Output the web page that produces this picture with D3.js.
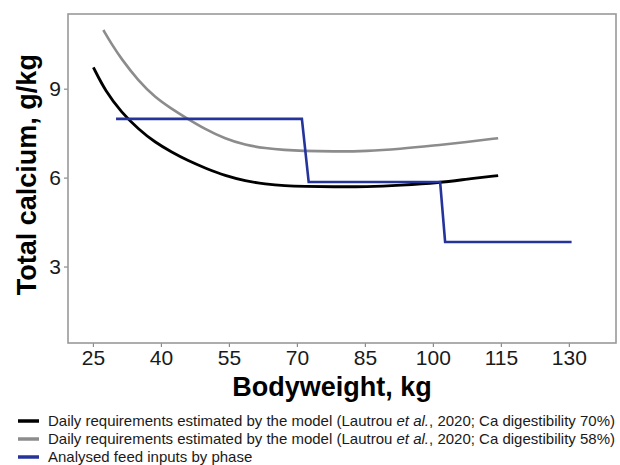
<!DOCTYPE html>
<html>
<head>
<meta charset="utf-8">
<style>
  body { margin: 0; background: #fff; }
  svg { font-family: "Liberation Sans", Arial, sans-serif; }
</style>
</head>
<body>
<svg width="620" height="465" id="chart"></svg>
<script src="https://cdn.jsdelivr.net/npm/d3@7"></script>
<script>
// ---- data ----
var xTicks = [25, 40, 55, 70, 85, 100, 115, 130];
var yTicks = [3, 6, 9];

// requirement, Ca digestibility 70 %
var req70 = [
  [25.1, 9.72], [27.7, 8.93], [31.3, 8.20], [35.0, 7.64], [38.7, 7.19],
  [42.4, 6.86], [46.0, 6.57], [49.8, 6.32], [54.2, 6.06], [58.6, 5.89],
  [63.0, 5.78], [67.4, 5.72], [71.5, 5.70], [78.1, 5.69], [85.4, 5.69],
  [92.8, 5.74], [101.6, 5.83], [107.5, 5.95], [114.4, 6.07]
];

// requirement, Ca digestibility 58 %
var req58 = [
  [27.3, 10.98], [29.1, 10.51], [31.3, 10.0], [35.0, 9.27], [38.7, 8.71],
  [42.4, 8.32], [45.3, 8.04], [49.8, 7.63], [54.2, 7.31], [58.6, 7.10],
  [63.0, 6.99], [67.4, 6.93], [71.0, 6.90], [78.1, 6.88], [85.4, 6.89],
  [92.8, 6.97], [100.1, 7.08], [107.5, 7.20], [114.4, 7.33]
];

// analysed feed by phase
var feed = [
  [30.1, 7.98], [71.1, 7.98], [72.6, 5.85], [101.6, 5.85], [102.7, 3.83], [130.6, 3.83]
];

var legendLabels = [
  "70%", "58%", null
];

var svg = d3.select("#chart"),
    margin = {top: 14, right: 4, bottom: 122, left: 68},
    width = +svg.attr("width") - margin.left - margin.right,
    height = +svg.attr("height") - margin.top - margin.bottom,
    g = svg.append("g").attr("transform", "translate(" + margin.left + "," + margin.top + ")");

var x = d3.scaleLinear().domain([19.5, 140.4]).range([0, width]),
    y = d3.scaleLinear().domain([0.42, 11.52]).range([height, 0]);

// smoothed curve for the model requirements
var line = d3.line()
    .curve(d3.curveBasis)
    .x(function(d) { return x(d[0]); })
    .y(function(d) { return y(d[1]); });

var stepLine = d3.line()
    .x(function(d) { return x(d[0]); })
    .y(function(d) { return y(d[1]); });

// axes
var xAxis = g.append("g")
    .attr("transform", "translate(0," + height + ")")
    .call(d3.axisBottom(x).tickValues(xTicks).tickSize(4).tickPadding(3));
var yAxis = g.append("g")
    .call(d3.axisLeft(y).tickValues(yTicks).tickSize(4).tickPadding(3));

[xAxis, yAxis].forEach(function(a) {
  a.select(".domain").remove();
  a.selectAll(".tick line").attr("stroke", "#8a8a8a").attr("stroke-width", 1.2);
  a.selectAll(".tick text").attr("fill", "#1a1a1a").style("font-size", "21px");
});

// panel border
g.append("rect")
    .attr("width", width)
    .attr("height", height)
    .attr("fill", "none")
    .attr("stroke", "#999")
    .attr("stroke-width", 1.6);

// lines
var series = [
  {data: req58, color: "#8c8c8c", gen: line, w: 2.6},
  {data: req70, color: "#000000", gen: line, w: 2.8},
  {data: feed,  color: "#25349b", gen: stepLine, w: 2.6}
];

g.selectAll(".series")
  .data(series)
  .enter().append("path")
    .attr("class", "series")
    .attr("d", function(d) { return d.gen(d.data); })
    .attr("fill", "none")
    .attr("stroke", function(d) { return d.color; })
    .attr("stroke-width", function(d) { return d.w; });

// axis titles
svg.append("text")
    .attr("x", 332)
    .attr("y", 396)
    .attr("text-anchor", "middle")
    .style("font-size", "27px")
    .style("font-weight", "bold")
    .text("Bodyweight, kg");

svg.append("text")
    .attr("transform", "translate(36," + (margin.top + y(6.1)) + ") rotate(-90)")
    .attr("text-anchor", "middle")
    .style("font-size", "27px")
    .style("font-weight", "bold")
    .text("Total calcium, g/kg");

// legend
var legendColors = ["#000000", "#8c8c8c", "#25349b"];
var leg = svg.append("g").attr("transform", "translate(18,421)");
legendColors.forEach(function(c, i) {
  var row = leg.append("g").attr("transform", "translate(0," + (i * 18) + ")");
  row.append("line")
      .attr("x1", 0).attr("x2", 21)
      .attr("y1", 0).attr("y2", 0)
      .attr("stroke", c).attr("stroke-width", 3.5);
  var t = row.append("text")
      .attr("x", 30).attr("dy", "0.35em")
      .attr("fill", "#1a1a1a")
      .style("font-size", "15px");
  if (legendLabels[i]) {
    t.append("tspan").text("Daily requirements estimated by the model (Lautrou ");
    t.append("tspan").style("font-style", "italic").text("et al.");
    t.append("tspan").text(", 2020; Ca digestibility " + legendLabels[i] + ")");
  } else {
    t.text("Analysed feed inputs by phase");
  }
});
</script>
</body>
</html>
